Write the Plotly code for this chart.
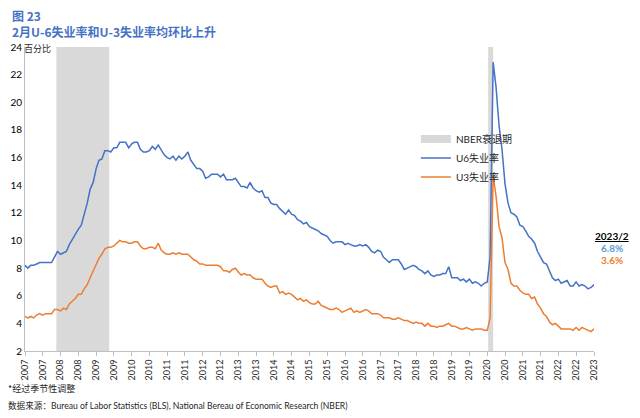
import pandas as pd
import plotly.graph_objects as go

# Monthly data, Feb 2007 - Feb 2023 (seasonally adjusted, %)
start_month = "2007-02-01"
end_month = "2023-02-01"

u6_rate = [
    8.2, 8.0, 8.2, 8.2, 8.3, 8.4, 8.4, 8.4, 8.4, 8.4, 8.8,             # 2007 Feb-Dec
    9.2, 9.0, 9.1, 9.2, 9.7, 10.1, 10.5, 10.8, 11.1, 11.8, 12.7, 13.7,  # 2008
    14.2, 15.2, 15.8, 15.9, 16.5, 16.5, 16.4, 16.7, 16.7, 17.1, 17.1, 17.1,  # 2009
    16.7, 17.0, 17.1, 17.1, 16.6, 16.4, 16.4, 16.5, 16.8, 16.6, 16.9, 16.6,  # 2010
    16.2, 16.0, 15.9, 16.1, 15.8, 16.1, 15.9, 16.1, 16.4, 15.8, 15.5, 15.2,  # 2011
    15.2, 15.0, 14.5, 14.6, 14.8, 14.8, 14.8, 14.6, 14.8, 14.4, 14.4, 14.4,  # 2012
    14.5, 14.2, 13.9, 13.9, 13.8, 14.2, 13.8, 13.6, 13.5, 13.6, 13.1, 13.1,  # 2013
    12.7, 12.6, 12.6, 12.3, 12.1, 11.9, 12.2, 11.9, 11.8, 11.5, 11.4, 11.2,  # 2014
    11.3, 11.0, 10.9, 10.8, 10.7, 10.5, 10.4, 10.3, 10.0, 9.8, 9.9, 9.9,    # 2015
    9.9, 9.7, 9.8, 9.7, 9.6, 9.6, 9.7, 9.6, 9.7, 9.5, 9.2, 9.1,             # 2016
    9.3, 9.2, 8.8, 8.6, 8.4, 8.6, 8.6, 8.6, 8.3, 7.9, 8.0, 8.1,             # 2017
    8.2, 8.1, 7.9, 7.8, 7.6, 7.8, 7.5, 7.4, 7.5, 7.5, 7.6, 7.6,             # 2018
    8.1, 7.3, 7.3, 7.3, 7.1, 7.2, 7.0, 7.2, 6.9, 7.0, 6.9, 6.7,             # 2019
    6.9, 7.0, 8.8, 22.9, 21.1, 18.3, 16.6, 14.1, 12.7, 12.0, 11.9, 11.7,    # 2020
    11.1, 11.0, 10.7, 10.3, 10.1, 9.8, 9.2, 8.8, 8.4, 8.3, 7.8, 7.3,        # 2021
    7.1, 7.2, 6.9, 7.0, 7.1, 6.7, 6.7, 7.0, 6.7, 6.8, 6.7, 6.5,             # 2022
    6.6, 6.8,                                                                # 2023
]

u3_rate = [
    4.5, 4.4, 4.5, 4.4, 4.6, 4.7, 4.6, 4.7, 4.7, 4.7, 5.0,             # 2007 Feb-Dec
    5.0, 4.9, 5.1, 5.0, 5.4, 5.6, 5.8, 6.1, 6.1, 6.5, 6.8, 7.3,         # 2008
    7.8, 8.3, 8.7, 9.0, 9.4, 9.5, 9.5, 9.6, 9.8, 10.0, 9.9, 9.9,        # 2009
    9.8, 9.8, 9.9, 9.9, 9.6, 9.4, 9.4, 9.5, 9.5, 9.4, 9.8, 9.3,         # 2010
    9.1, 9.0, 9.0, 9.1, 9.0, 9.1, 9.0, 9.0, 9.0, 8.8, 8.6, 8.5,         # 2011
    8.3, 8.3, 8.2, 8.2, 8.2, 8.2, 8.2, 8.1, 7.8, 7.8, 7.7, 7.9,         # 2012
    8.0, 7.7, 7.5, 7.6, 7.5, 7.5, 7.3, 7.2, 7.2, 7.2, 6.9, 6.7,         # 2013
    6.6, 6.7, 6.7, 6.2, 6.3, 6.1, 6.2, 6.1, 5.9, 5.7, 5.8, 5.6,         # 2014
    5.7, 5.5, 5.4, 5.4, 5.6, 5.3, 5.2, 5.1, 5.0, 5.0, 5.1, 5.0,         # 2015
    4.8, 4.9, 5.0, 5.1, 4.8, 4.9, 4.8, 4.9, 5.0, 4.9, 4.7, 4.7,         # 2016
    4.7, 4.6, 4.4, 4.4, 4.4, 4.3, 4.3, 4.4, 4.3, 4.2, 4.2, 4.1,         # 2017
    4.0, 4.1, 4.0, 4.0, 3.8, 4.0, 3.8, 3.8, 3.7, 3.8, 3.8, 3.9,         # 2018
    4.0, 3.8, 3.8, 3.7, 3.6, 3.6, 3.7, 3.6, 3.5, 3.6, 3.6, 3.6,         # 2019
    3.5, 3.5, 4.4, 14.7, 13.2, 11.0, 10.2, 8.4, 7.9, 6.9, 6.7, 6.7,     # 2020
    6.4, 6.2, 6.1, 6.1, 5.8, 5.9, 5.4, 5.1, 4.7, 4.5, 4.1, 3.9,         # 2021
    4.0, 3.8, 3.6, 3.6, 3.6, 3.6, 3.5, 3.7, 3.5, 3.7, 3.6, 3.5,         # 2022
    3.4, 3.6,                                                            # 2023
]

# NBER recession periods
recession_start = ["2007-12-20", "2020-02-10"]
recession_end = ["2009-06-15", "2020-04-01"]

# x-axis ticks every six months, labelled with the year
tick_labels = [
    "2007", "2007", "2008", "2008", "2009", "2009", "2010", "2010",
    "2011", "2011", "2012", "2012", "2013", "2013", "2014", "2014",
    "2015", "2015", "2016", "2016", "2017", "2017", "2018", "2018",
    "2019", "2019", "2020", "2020", "2021", "2021", "2022", "2022", "2023",
]

latest_label = "2023/2"
latest_u6 = "6.8%"
latest_u3 = "3.6%"

dates = pd.date_range(start_month, end_month, freq="MS")
tick_vals = pd.date_range(start_month, end_month, freq="6MS")

BLUE = "#4472C4"
ORANGE = "#ED7D31"
GREY = "#D9D9D9"
CJK = "Noto Sans CJK SC"
LAT = "Lato, Noto Sans CJK SC"

fig = go.Figure()

fig.add_trace(go.Scatter(x=[None], y=[None], mode="lines", name="NBER衰退期",
                         line=dict(color=GREY, width=8), hoverinfo="skip"))
fig.add_trace(go.Scatter(x=dates, y=u6_rate, mode="lines", name="U6失业率",
                         line=dict(color=BLUE, width=1.5)))
fig.add_trace(go.Scatter(x=dates, y=u3_rate, mode="lines", name="U3失业率",
                         line=dict(color=ORANGE, width=1.5)))

for s, e in zip(recession_start, recession_end):
    fig.add_shape(type="rect", xref="x", yref="paper", x0=s, x1=e, y0=0, y1=1,
                  fillcolor=GREY, line=dict(width=0), layer="below")

fig.update_layout(
    width=640, height=418,
    margin=dict(l=17, r=54, t=39, b=75, autoexpand=False),
    paper_bgcolor="white", plot_bgcolor="white",
    font=dict(family=LAT, size=10, color="#000000"),
    showlegend=True,
    legend=dict(x=0.687, y=0.745, xanchor="left", yanchor="top",
                bgcolor="rgba(0,0,0,0)", font=dict(family=LAT, size=10, color="#262626"),
                itemwidth=30, tracegroupgap=0),
    xaxis=dict(
        type="date", range=[start_month, end_month], automargin=False,
        tickmode="array", tickvals=tick_vals, ticktext=tick_labels,
        tickangle=-90, tickfont=dict(family=LAT, size=9, color="#262626"),
        showline=True, linecolor="#BFBFBF", linewidth=1,
        ticks="outside", ticklen=4, tickcolor="#BFBFBF",
        showgrid=False, zeroline=False,
    ),
    yaxis=dict(
        range=[2, 24], tickmode="linear", tick0=2, dtick=2, automargin=False,
        tickfont=dict(family=LAT, size=10, color="#000000"),
        showline=True, linecolor="#BFBFBF", linewidth=1,
        showgrid=False, zeroline=False, ticks="",
    ),
)

annotations = [
    dict(text="<b>图 23</b>", x=-0.027, y=1.104, font=dict(family=CJK, size=12, color=BLUE)),
    dict(text="<b>2月U-6失业率和U-3失业率均环比上升</b>", x=-0.027, y=1.05,
         font=dict(family=CJK, size=12, color=BLUE)),
    dict(text="百分比", x=-0.005, y=0.995, font=dict(family=CJK, size=9, color="#262626")),
    dict(text="*经过季节性调整", x=-0.034, y=-0.122, font=dict(family=CJK, size=9, color="#262626")),
    dict(text="数据来源：Bureau of Labor Statistics (BLS), National Bereau of Economic Research (NBER)",
         x=-0.034, y=-0.178, font=dict(family=LAT, size=8.6, color="#262626")),
]
for a in annotations:
    fig.add_annotation(xref="paper", yref="paper", xanchor="left", yanchor="middle",
                       showarrow=False, **a)

right = [
    (f"<b><u>{latest_label}</u></b>", 0.378, "#000000"),
    (f"<b>{latest_u6}</b>", 0.339, "#5B9BD5"),
    (f"<b>{latest_u3}</b>", 0.299, ORANGE),
]
for t, yy, c in right:
    fig.add_annotation(xref="paper", yref="paper", x=1.032, y=yy, text=t, showarrow=False,
                       xanchor="center", yanchor="middle",
                       font=dict(family=LAT, size=10, color=c))

fig.write_html("out.html")
